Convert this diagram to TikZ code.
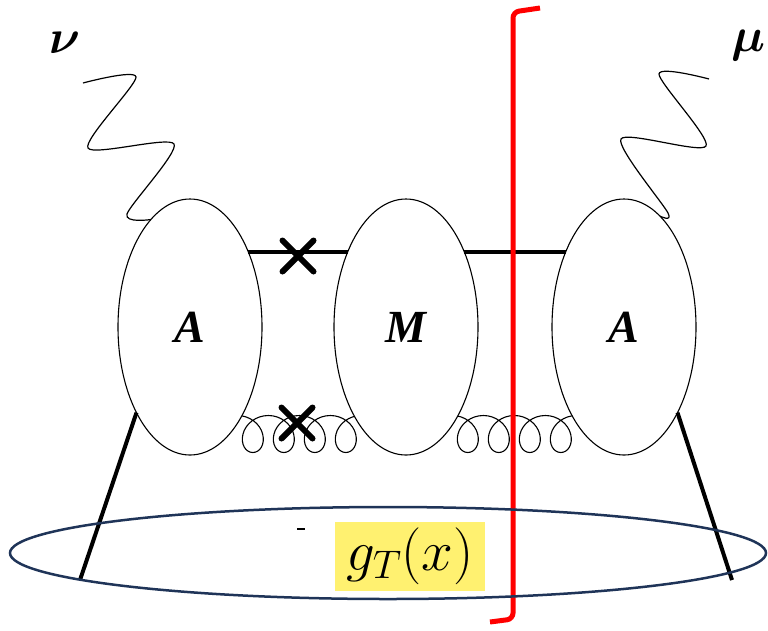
\RequirePackage{fix-cm}
\documentclass[tikz,border=0pt]{standalone}
\usepackage{bm}
\usepackage{fontspec}
\usepackage{xcolor}
\usetikzlibrary{shapes.geometric, shapes.misc}
\usetikzlibrary{decorations.pathmorphing}
\usetikzlibrary{backgrounds}
\newfontfamily\lblfont{Liberation Serif}
\newcommand{\labfont}{\lblfont\bfseries\itshape\fontsize{46}{50}\selectfont}
\definecolor{cutred}{RGB}{255, 0, 0}
\definecolor{ringnavy}{RGB}{31, 52, 88}
\definecolor{hlyellow}{RGB}{255, 241, 112}

\begin{document}
\begin{tikzpicture}[x=1pt, y=-1pt,
  blob/.style={draw, ellipse, fill=white, line width=1.1pt, inner sep=0pt, outer sep=0pt,
    minimum width=144pt, minimum height=256pt, font=\labfont},
  quark/.style={line width=4pt},
  leg/.style={line width=4pt},
  photon/.style={line width=1.2pt},
  gluon/.style={line width=1.1pt, decorate,
    decoration={coil, amplitude=18.5pt, segment length=31pt, aspect=0.95}},
  xmark/.style={cross out, draw, line width=6pt, line cap=round, minimum size=25pt, inner sep=0pt},
  cut/.style={line width=5pt, color=cutred, rounded corners=6pt},
  ring/.style={draw=ringnavy, ellipse, line width=2.5pt, inner sep=0pt,
    minimum width=756pt, minimum height=92pt},
  hlbox/.style={fill=hlyellow, inner sep=0pt, minimum width=150pt, minimum height=69pt,
    font=\fontsize{57}{62}\selectfont},
  greek/.style={font=\fontsize{48}{52}\selectfont}]
  \useasboundingbox (0,0) rectangle (768,630);

  %Blobs
  \node[blob] (A1) at (190,327) {A};
  \node[blob] (M)  at (406,327) {M};
  \node[blob] (A2) at (624,327) {A};

  %Gluons (behind the blobs)
  \begin{pgfonlayer}{background}
    \draw[gluon] ([xshift=22pt,yshift=-107pt]A1.center) -- ([xshift=-18pt,yshift=-107pt]M.center);
    \draw[gluon] ([xshift=21pt,yshift=-107pt]M.center) -- ([xshift=-21pt,yshift=-107pt]A2.center);
  \end{pgfonlayer}

  %Quark lines
  \draw[quark] (A1.52) -- (M.128);
  \draw[quark] (M.52) -- (A2.128);
  \node[xmark] (x1) at (298,256) {};
  \node[xmark] (x2) at (297,423) {};

  %Photons and labels
  \coordinate (nuend) at (83,83);
  \coordinate (muend) at (709,79);
  \draw[photon] plot[smooth, tension=0.45] coordinates
    {(nuend) (136,77) (88,148) (174,144) (127,214) (A1.110)};
  \draw[photon] plot[smooth, tension=0.45] coordinates
    {(muend) (659,74) (706,146) (621,139) (668,213) (A2.72)};
  \node[greek] (nu) at (65,43) {$\bm{\nu}$};
  \node[greek] (mu) at (748,45) {$\bm{\mu}$};

  %Legs
  \coordinate (legL) at (80,580);
  \coordinate (legR) at (732,580);
  \draw[leg] (A1.-122) -- (legL);
  \draw[leg] (A2.-58) -- (legR);

  %Cut
  \draw[cut] (540,8) -- (513,12) -- (513,619) -- (490,622);

  %Hadron
  \node[ring] (hadron) at (388,553) {};
  \draw[line width=1.2pt] (297,529) -- (305,529);
  \node[hlbox] (gT) at (410,556) {$g_T(x)$};

\end{tikzpicture}
\end{document}
